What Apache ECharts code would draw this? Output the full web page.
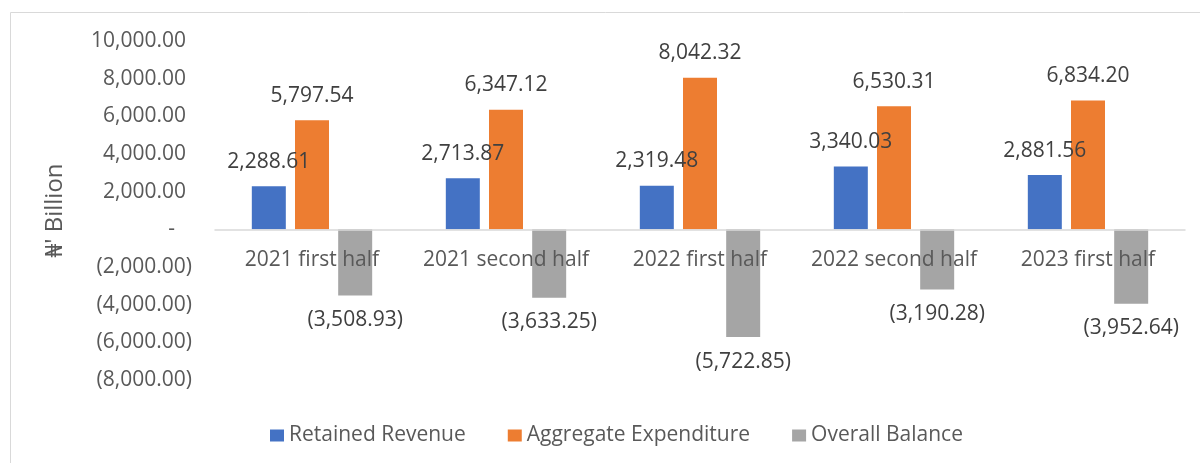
<!DOCTYPE html>
<html>
<head>
<meta charset="utf-8">
<title>Retained Revenue, Aggregate Expenditure and Overall Balance</title>
<script src="https://cdn.jsdelivr.net/npm/echarts@6/dist/echarts.min.js"></script>
<style>
  html, body { margin: 0; padding: 0; background: #fff; }
  #chart { width: 1200px; height: 463px; }
</style>
</head>
<body>
<div id="chart"></div>
<script>
var periods = ['2021 first half', '2021 second half', '2022 first half', '2022 second half', '2023 first half'];
var retainedRevenue = [2288.61, 2713.87, 2319.48, 3340.03, 2881.56];
var aggregateExpenditure = [5797.54, 6347.12, 8042.32, 6530.31, 6834.20];
var overallBalance = [-3508.93, -3633.25, -5722.85, -3190.28, -3952.64];

var FONT = '"Open Sans", "Noto Sans", "DejaVu Sans", sans-serif';

// accounting style: 1,234.56 / (1,234.56) / -
function money(v) {
    var s = Math.abs(v).toLocaleString('en-US', {minimumFractionDigits: 2, maximumFractionDigits: 2});
    return v < 0 ? '(' + s + ')' : s;
}

var chart = echarts.init(document.getElementById('chart'));

function barLabel(pos) {
    return {
        show: true,
        position: pos,
        distance: 14,
        color: '#404040',
        fontSize: 21,
        fontFamily: FONT,
        formatter: function (p) { return money(p.value); }
    };
}

chart.setOption({
    animation: false,
    textStyle: {fontFamily: FONT},
    graphic: [{
        type: 'rect',
        shape: {x: 10.5, y: 12.5, width: 1300, height: 600},
        style: {fill: 'none', stroke: '#d9d9d9', lineWidth: 1}
    }],
    grid: {left: 215, right: 15, top: 41, bottom: 83},
    legend: {
        left: 265,
        top: 420,
        itemWidth: 14,
        itemHeight: 12,
        itemGap: 42,
        icon: 'rect',
        textStyle: {color: '#595959', fontSize: 21, fontFamily: FONT},
        data: ['Retained Revenue', 'Aggregate Expenditure', 'Overall Balance']
    },
    xAxis: {
        type: 'category',
        data: periods,
        offset: -150,
        z: 5,
        axisLine: {onZero: false, lineStyle: {color: '#d9d9d9', width: 1.5}},
        axisTick: {show: false},
        axisLabel: {color: '#595959', fontSize: 21, fontFamily: FONT, margin: 20, interval: 0, hideOverlap: false}
    },
    yAxis: {
        type: 'value',
        min: -8000,
        max: 10000,
        interval: 2000,
        name: '\u20A6\' Billion',
        nameLocation: 'middle',
        nameGap: 148,
        nameTextStyle: {color: '#595959', fontSize: 24, fontFamily: FONT},
        splitLine: {show: false},
        axisLine: {show: false},
        axisTick: {show: false},
        axisLabel: {
            margin: 23,
            color: '#595959',
            fontSize: 21,
            fontFamily: FONT,
            formatter: function (v) {
                if (v === 0) return '{z|-}';
                if (v > 0) return '{p|' + money(v) + '}';
                return '{n|' + money(v) + '}';
            },
            rich: {
                p: {fontSize: 21, fontFamily: FONT, color: '#595959', padding: [0, 6, 0, 0]},
                n: {fontSize: 21, fontFamily: FONT, color: '#595959'},
                z: {fontSize: 21, fontFamily: FONT, color: '#595959', padding: [0, 17, 0, 0]}
            }
        }
    },
    series: [{
        name: 'Retained Revenue',
        type: 'bar',
        data: retainedRevenue,
        barWidth: 34,
        barGap: '27%',
        itemStyle: {color: '#4472C4'},
        label: barLabel('top')
    }, {
        name: 'Aggregate Expenditure',
        type: 'bar',
        data: aggregateExpenditure,
        barWidth: 34,
        barGap: '27%',
        itemStyle: {color: '#ED7D31'},
        label: barLabel('top')
    }, {
        name: 'Overall Balance',
        type: 'bar',
        data: overallBalance,
        barWidth: 34,
        barGap: '27%',
        itemStyle: {color: '#A5A5A5'},
        label: barLabel('bottom')
    }]
});
</script>
</body>
</html>
